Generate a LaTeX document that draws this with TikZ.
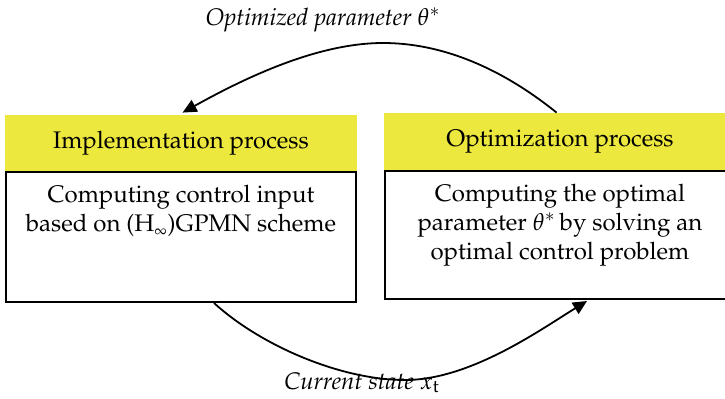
\documentclass[tikz,border=0pt]{standalone}
\usepackage[T1]{fontenc}
\usepackage{mathpazo}
\usetikzlibrary{arrows.meta,calc}
\definecolor{hdryellow}{RGB}{237,232,62}
\begin{document}
\begin{tikzpicture}[x=0.5pt,y=-0.5pt,
  hdr/.style={fill=hdryellow, draw=none, inner sep=0pt, font=\fontsize{12}{14}\selectfont},
  body/.style={draw=black, line width=1pt, fill=white, inner sep=0pt},
  txt/.style={align=center, font=\fontsize{12}{14.5}\selectfont, inner sep=0pt},
  lbl/.style={font=\fontsize{12}{14}\selectfont\itshape, inner sep=0pt},
  conn/.style={line width=0.9pt, -{Triangle[length=7pt,width=6.5pt]}}]
\clip (0,0) rectangle (725,398);
\fill[white] (0,0) rectangle (725,398);
% left block
\node[hdr, minimum width=176pt, minimum height=28.5pt] (lh) at (181,143.5) {Implementation process};
\node[body, minimum width=175pt, minimum height=65pt] (lb) at (181,237) {};
\node[txt, anchor=north] (lt) at ($(lb.north)+(0,14)$) {Computing control input\\based on (H$_{\scriptscriptstyle\infty}$)GPMN scheme};
% right block
\node[hdr, minimum width=176pt, minimum height=28.5pt] (rh) at (560,141.5) {Optimization process};
\node[body, minimum width=175pt, minimum height=64.25pt] (rb) at (560,234.75) {};
\node[txt, anchor=north] (rt) at ($(rb.north)+(0,14)$) {Computing the optimal\\parameter $\theta^*$\,by solving an\\optimal control problem};
% labels
\node[lbl] (toplbl) at (323,20) {Optimized parameter $\theta^*$};
\node[lbl] (botlbl) at (362,383) {Current state $x_{\mathrm{t}}$};
% connectors
\coordinate (tp) at (383,43);
\coordinate (bp) at (405,380);
\draw[conn] ($(rh.north west)+(173,0)$) .. controls (510,75) and (450,43) .. (tp)
  .. controls (320,43) and (250,75) .. ($(lh.north west)+(178,-2)$);
\draw[conn] ($(lb.south west)+(209,0)$) .. controls (260,345) and (340,380) .. (bp)
  .. controls (470,380) and (540,330) .. ($(rb.south west)+(203,1)$);
\end{tikzpicture}
\end{document}
